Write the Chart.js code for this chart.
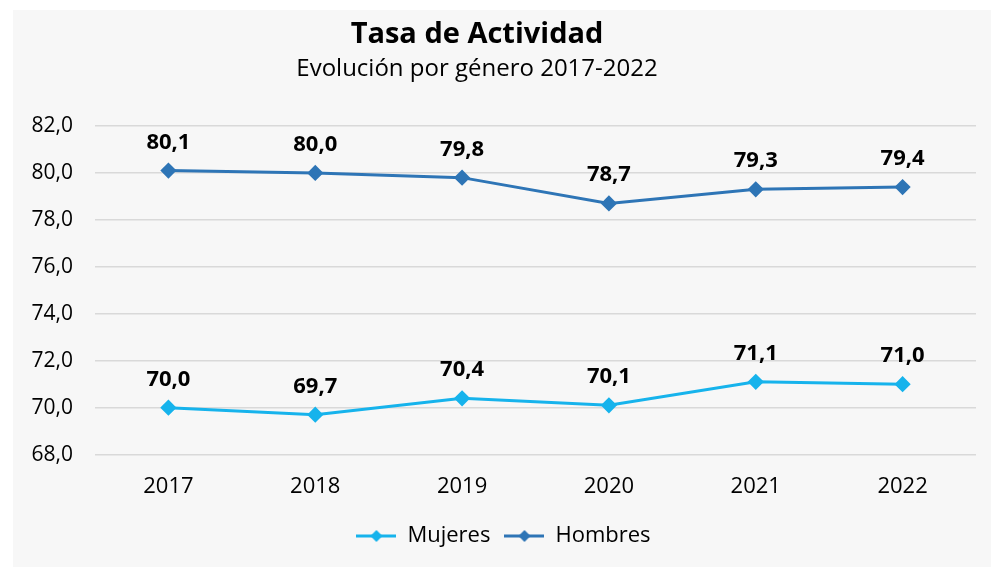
<!DOCTYPE html>
<html>
<head>
<meta charset="utf-8">
<script src="https://cdn.jsdelivr.net/npm/chart.js@4"></script>
<style>
  html, body { margin: 0; padding: 0; background: #fff; }
  #box { position: absolute; left: 13px; top: 10px; width: 978px; height: 557px; background: #f7f7f7; }
</style>
</head>
<body>
<div id="box"><canvas id="c"></canvas></div>
<script>
const years = ['2017', '2018', '2019', '2020', '2021', '2022'];
const mujeres = [70.0, 69.7, 70.4, 70.1, 71.1, 71.0];
const hombres = [80.1, 80.0, 79.8, 78.7, 79.3, 79.4];
const titulo = 'Tasa de Actividad';
const subtitulo = 'Evolución por género 2017-2022';
const colMuj = '#16b3ec';
const colHom = '#2e75b6';
const FONT = '"Open Sans", "Noto Sans", sans-serif';

// icono de leyenda: linea con rombo
function legendIcon(color) {
  const cv = document.createElement('canvas');
  cv.width = 40; cv.height = 14;
  const g = cv.getContext('2d');
  g.strokeStyle = color; g.lineWidth = 3;
  g.beginPath(); g.moveTo(0, 7); g.lineTo(40, 7); g.stroke();
  g.fillStyle = color;
  g.beginPath(); g.moveTo(20, 1); g.lineTo(26, 7); g.lineTo(20, 13); g.lineTo(14, 7); g.closePath(); g.fill();
  return cv;
}

const fmt = v => v.toFixed(1).replace('.', ',');

// titulo centrado un poco a la izquierda, como en el original
const titles = {
  id: 'titles',
  afterDraw(chart) {
    const ctx = chart.ctx;
    ctx.save();
    ctx.fillStyle = '#000';
    ctx.textAlign = 'center';
    ctx.textBaseline = 'alphabetic';
    ctx.font = 'bold 29px ' + FONT;
    ctx.fillText(titulo, 464, 33);
    ctx.font = '24px ' + FONT;
    ctx.fillText(subtitulo, 464, 66);
    ctx.restore();
  }
};

// etiquetas de datos encima de cada punto
const valueLabels = {
  id: 'valueLabels',
  afterDatasetsDraw(chart) {
    const ctx = chart.ctx;
    ctx.save();
    ctx.font = 'bold 22px ' + FONT;
    ctx.fillStyle = '#000';
    ctx.textAlign = 'center';
    ctx.textBaseline = 'alphabetic';
    chart.data.datasets.forEach((ds, i) => {
      chart.getDatasetMeta(i).data.forEach((pt, j) => {
        ctx.fillText(fmt(ds.data[j]), pt.x, pt.y - 22);
      });
    });
    ctx.restore();
  }
};

new Chart(document.getElementById('c'), {
  type: 'line',
  data: {
    labels: years,
    datasets: [
      { label: 'Mujeres', data: mujeres, borderColor: colMuj, backgroundColor: colMuj,
        borderWidth: 3, pointStyle: 'rectRot', pointRadius: 6, pointHoverRadius: 6, tension: 0 },
      { label: 'Hombres', data: hombres, borderColor: colHom, backgroundColor: colHom,
        borderWidth: 3, pointStyle: 'rectRot', pointRadius: 6, pointHoverRadius: 6, tension: 0 }
    ]
  },
  options: {
    responsive: true,
    maintainAspectRatio: false,
    animation: false,
    layout: { padding: { left: 18, right: 15, top: 116, bottom: 10 } },
    plugins: {
      title: { display: false },
      legend: {
        position: 'bottom',
        labels: {
          usePointStyle: true,
          pointStyleWidth: 40,
          color: '#000',
          font: { family: FONT, size: 22 },
          padding: 14,
          generateLabels(chart) {
            return chart.data.datasets.map((ds, i) => ({
              text: ds.label, pointStyle: legendIcon(ds.borderColor),
              fillStyle: ds.borderColor, strokeStyle: ds.borderColor, lineWidth: 0,
              datasetIndex: i, hidden: false
            }));
          }
        }
      },
      tooltip: { enabled: false }
    },
    scales: {
      x: {
        offset: true,
        grid: { display: false },
        border: { display: false },
        ticks: { color: '#000', font: { family: FONT, size: 22 }, padding: 11 }
      },
      y: {
        min: 68, max: 82,
        grid: { color: '#d9d9d9', lineWidth: 1.5, drawTicks: false },
        border: { display: false },
        afterFit(scale) { scale.width = 64; },
        ticks: { stepSize: 2, color: '#000', font: { family: FONT, size: 21 }, padding: 22,
          callback: v => fmt(v) }
      }
    }
  },
  plugins: [valueLabels, titles]
});
</script>
</body>
</html>
